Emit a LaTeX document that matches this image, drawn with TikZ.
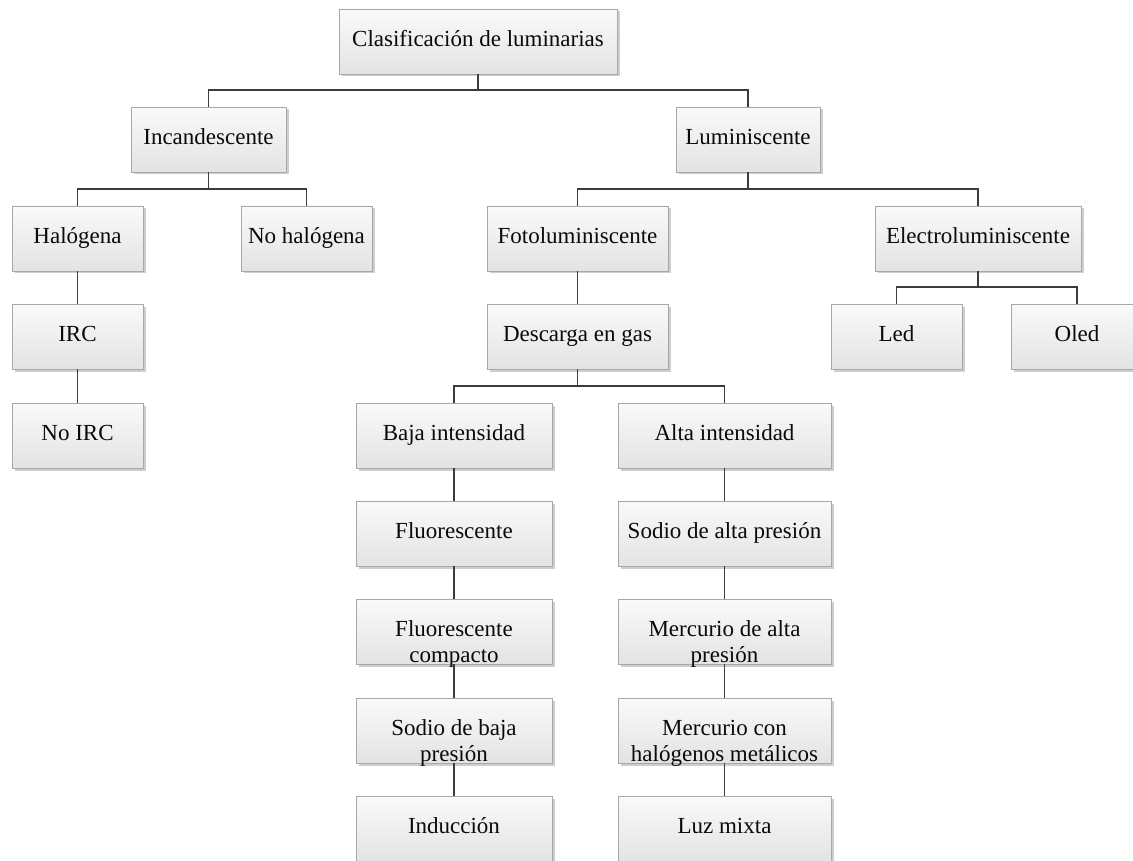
\documentclass[tikz,border=0pt]{standalone}
\usepackage{fontspec}
\setmainfont{Liberation Serif}
\usetikzlibrary{shadows,calc}
\definecolor{boxborder}{HTML}{A8A8A8}
\definecolor{conn}{HTML}{3C3C3C}
\definecolor{txtcol}{HTML}{0A0A0A}
\tikzset{
  box/.style={rectangle, draw=boxborder, line width=0.8pt,
    top color=white!98!black, bottom color=white!89!black,
    drop shadow={shadow xshift=2.5pt, shadow yshift=-2.5pt, opacity=0.35, fill=black!55},
    minimum height=65pt, inner sep=0pt},
  lbl/.style={anchor=base, inner sep=0pt, font=\fontsize{23}{25.5}\selectfont, text=txtcol},
  link/.style={draw=conn, line width=1.3pt},
}
\newcommand{\twol}[2]{\begin{tabular}[t]{@{}c@{}}#1\\#2\end{tabular}}
\begin{document}
\begin{tikzpicture}[x=1pt,y=-1pt]
\useasboundingbox (0,0) rectangle (1133,861);
% boxes
\node[box, minimum width=278pt] (root) at (478,41.5) {};
\node[box, minimum width=155pt] (inc) at (208.5,139.5) {};
\node[box, minimum width=144pt] (lum) at (748,139.5) {};
\node[box, minimum width=131pt] (hal) at (77.5,238.5) {};
\node[box, minimum width=131pt] (nohal) at (306.5,238.5) {};
\node[box, minimum width=181pt] (foto) at (577.5,238.5) {};
\node[box, minimum width=206pt] (elec) at (978,238.5) {};
\node[box, minimum width=131pt] (irc) at (77.5,336.5) {};
\node[box, minimum width=181pt] (desc) at (577.5,336.5) {};
\node[box, minimum width=131pt] (led) at (896.5,336.5) {};
\node[box, minimum width=131pt] (oled) at (1077,336.5) {};
\node[box, minimum width=131pt] (noirc) at (77.5,435.5) {};
\node[box, minimum width=196pt] (baja) at (454,435.5) {};
\node[box, minimum width=213pt] (alta) at (724.5,435.5) {};
\node[box, minimum width=196pt] (fluor) at (454,533.5) {};
\node[box, minimum width=213pt] (sodalta) at (724.5,533.5) {};
\node[box, minimum width=196pt] (fcomp) at (454,631.5) {};
\node[box, minimum width=213pt] (merc) at (724.5,631.5) {};
\node[box, minimum width=196pt] (sodbaja) at (454,730.5) {};
\node[box, minimum width=213pt] (merccon) at (724.5,730.5) {};
\node[box, minimum width=196pt] (induc) at (454,828.5) {};
\node[box, minimum width=213pt] (luz) at (724.5,828.5) {};
% labels
\node[lbl] (t-root) at ([yshift=-5pt]root.center) {Clasificación de luminarias};
\node[lbl] (t-inc) at ([yshift=-5pt]inc.center) {Incandescente};
\node[lbl] (t-lum) at ([yshift=-5pt]lum.center) {Luminiscente};
\node[lbl] (t-hal) at ([yshift=-5pt]hal.center) {Halógena};
\node[lbl] (t-nohal) at ([yshift=-5pt]nohal.center) {No halógena};
\node[lbl] (t-foto) at ([yshift=-5pt]foto.center) {Fotoluminiscente};
\node[lbl] (t-elec) at ([yshift=-5pt]elec.center) {Electroluminiscente};
\node[lbl] (t-irc) at ([yshift=-5pt]irc.center) {IRC};
\node[lbl] (t-desc) at ([yshift=-5pt]desc.center) {Descarga en gas};
\node[lbl] (t-led) at ([yshift=-5pt]led.center) {Led};
\node[lbl] (t-oled) at ([yshift=-5pt]oled.center) {Oled};
\node[lbl] (t-noirc) at ([yshift=-5pt]noirc.center) {No IRC};
\node[lbl] (t-baja) at ([yshift=-5pt]baja.center) {Baja intensidad};
\node[lbl] (t-alta) at ([yshift=-5pt]alta.center) {Alta intensidad};
\node[lbl] (t-fluor) at ([yshift=-5pt]fluor.center) {Fluorescente};
\node[lbl] (t-sodalta) at ([yshift=-5pt]sodalta.center) {Sodio de alta presión};
\node[lbl] (t-fcomp) at ([yshift=-5pt]fcomp.center) {\twol{Fluorescente}{compacto}};
\node[lbl] (t-merc) at ([yshift=-5pt]merc.center) {\twol{Mercurio de alta}{presión}};
\node[lbl] (t-sodbaja) at ([yshift=-5pt]sodbaja.center) {\twol{Sodio de baja}{presión}};
\node[lbl] (t-merccon) at ([yshift=-5pt]merccon.center) {\twol{Mercurio con}{halógenos metálicos}};
\node[lbl] (t-induc) at ([yshift=-5pt]induc.center) {Inducción};
\node[lbl] (t-luz) at ([yshift=-5pt]luz.center) {Luz mixta};
% connectors
\foreach \p/\c in {root/inc, root/lum, inc/hal, inc/nohal, lum/foto, lum/elec,
  hal/irc, irc/noirc, foto/desc, elec/led, elec/oled, desc/baja, desc/alta,
  baja/fluor, fluor/fcomp, fcomp/sodbaja, sodbaja/induc,
  alta/sodalta, sodalta/merc, merc/merccon, merccon/luz}
  \draw[link] (\p.south) |- ($(\c.north)+(0,-16.5)$) -- (\c.north);
\end{tikzpicture}
\end{document}
